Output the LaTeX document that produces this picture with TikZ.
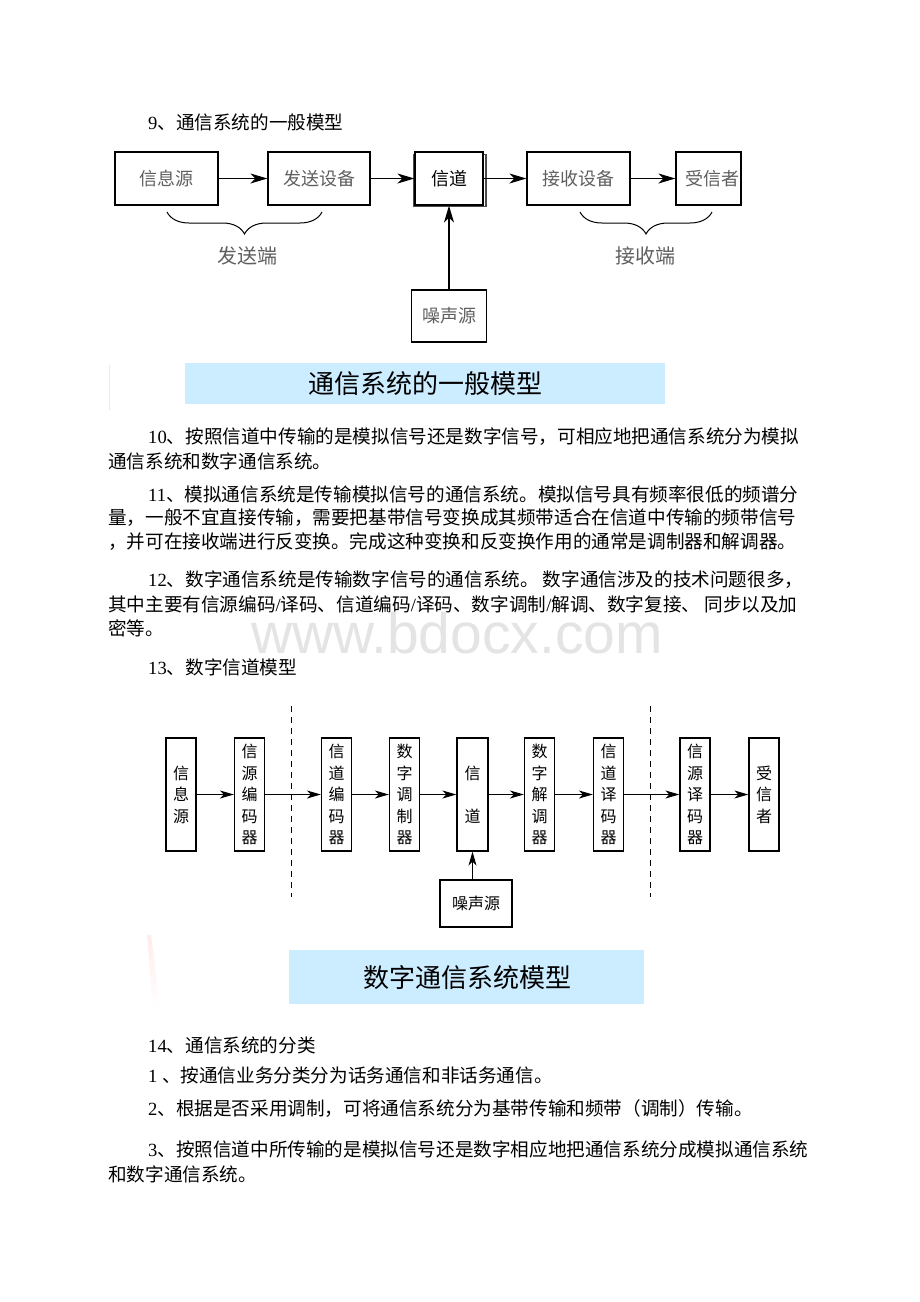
\documentclass[tikz,border=0pt]{standalone}
\usepackage{fontspec}
\setmainfont{Noto Sans CJK SC}
\newfontfamily\lat{Liberation Serif}
\newfontfamily\wmfont{Liberation Sans}
\usetikzlibrary{arrows.meta,decorations.pathreplacing,fadings}
\definecolor{bannerblue}{RGB}{204,236,255}
\definecolor{boxtext}{RGB}{95,95,95}
\definecolor{wmgray}{RGB}{228,228,228}
\begin{document}
\begin{tikzpicture}[x=1pt,y=-1pt,
  tbox/.style={draw,line width=1.2pt,minimum height=53pt,inner sep=0pt,
    font=\fontsize{18}{20}\selectfont,text=boxtext},
  bbox/.style={draw,line width=1.2pt,minimum width=30pt,minimum height=113pt,
    inner sep=0pt,align=center,font=\fontsize{16}{21.5}\selectfont},
  tarr/.style={line width=1.3pt,-{Stealth[length=17pt,width=10pt,inset=5pt]}},
  barr/.style={line width=1.2pt,-{Stealth[length=14pt,width=8pt,inset=4pt]}},
  body/.style={anchor=west,inner sep=0pt,font=\fontsize{18.6}{24}\selectfont},
  lbl/.style={inner sep=0pt,font=\fontsize{20}{22}\selectfont,text=boxtext},
  banner/.style={inner sep=0pt,font=\fontsize{26}{28}\selectfont},
  brc/.style={decorate,decoration={brace,mirror,amplitude=22pt,aspect=0.5},line width=1pt}]
\useasboundingbox (0,0) rectangle (920,1302);
\fill[white] (0,0) rectangle (920,1302);

% watermark
\node[inner sep=0pt,text=wmgray,font=\wmfont\fontsize{57}{60}\selectfont] (wm) at (457,633) {www.bdocx.com};

% section 9
\node[body] (t9) at (148,122) {{\lat 9}、通信系统的一般模型};

\node[tbox,minimum width=103pt] (src) at (166.5,178.5) {信息源};
\node[tbox,minimum width=102pt] (tx) at (319,178.5) {发送设备};
\draw[line width=1.2pt,black!70] (414,154.5) rectangle (486,206.5);
\node[tbox,minimum width=68pt,text=black,fill=white] (ch) at (449,178.5) {信道};
\node[tbox,minimum width=103pt] (rx) at (578.5,178.5) {接收设备};
\node[tbox,minimum width=65pt] (dst) at (708.5,178.5) {\hspace*{8pt}受信者};
\node[tbox,minimum width=75pt,minimum height=52pt] (noise) at (449,316) {噪声源};

\draw[tarr] (src) -- (tx);
\draw[tarr] (tx) -- (ch);
\draw[tarr] (ch) -- (rx);
\draw[tarr] (rx) -- (dst);
\draw[tarr] (noise) -- (ch);

\coordinate (b1a) at (167,212);
\coordinate (b1b) at (322,212);
\coordinate (b2a) at (580,212);
\coordinate (b2b) at (712,212);
\draw[brc] (b1a) -- (b1b);
\draw[brc] (b2a) -- (b2b);
\node[lbl] (sendend) at (247,256) {发送端};
\node[lbl] (recvend) at (645,256) {接收端};

% banner 1
\draw[pink!50,line width=0.8pt] (109,365) -- (109,410);
\fill[bannerblue] (185,363) rectangle (665,404);
\node[banner] (ban1) at (425,384) {通信系统的一般模型};

% paragraphs
\node[body] (p10a) at (148,437) {{\lat 10}、按照信道中传输的是模拟信号还是数字信号，可相应地把通信系统分为模拟};
\node[body] (p10b) at (108,461) {通信系统和数字通信系统。};
\node[body] (p11a) at (148,494) {{\lat 11}、模拟通信系统是传输模拟信号的通信系统。模拟信号具有频率很低的频谱分};
\node[body] (p11b) at (108,518) {量，一般不宜直接传输，需要把基带信号变换成其频带适合在信道中传输的频带信号};
\node[body] (p11c) at (108,542) {，并可在接收端进行反变换。完成这种变换和反变换作用的通常是调制器和解调器。};
\node[body] (p12a) at (148,580) {{\lat 12}、数字通信系统是传输数字信号的通信系统。 数字通信涉及的技术问题很多，};
\node[body] (p12b) at (108,604) {其中主要有信源编码{\lat /}译码、信道编码{\lat /}译码、数字调制{\lat /}解调、数字复接、 同步以及加};
\node[body] (p12c) at (108,628) {密等。};
\node[body] (p13) at (148,667) {{\lat 13}、数字信道模型};

% digital channel model
\draw[line width=1pt,dash pattern=on 6pt off 5pt] (291,706) -- (291,897);
\draw[line width=1pt,dash pattern=on 6pt off 5pt] (650,706) -- (650,897);

\node[bbox] (d1) at (181,794.5) {信\\息\\源};
\node[bbox] (d2) at (249.5,794.5) {信\\源\\编\\码\\器};
\node[bbox] (d3) at (336.5,794.5) {信\\道\\编\\码\\器};
\node[bbox] (d4) at (404.5,794.5) {数\\字\\调\\制\\器};
\node[bbox,minimum width=31pt] (d5) at (472.5,794.5) {信\\[21.5pt]道};
\node[bbox] (d6) at (539.5,794.5) {数\\字\\解\\调\\器};
\node[bbox] (d7) at (608.5,794.5) {信\\道\\译\\码\\器};
\node[bbox] (d8) at (695,794.5) {信\\源\\译\\码\\器};
\node[bbox] (d9) at (764,794.5) {受\\信\\者};
\node[draw,line width=1.2pt,minimum width=72pt,minimum height=47pt,inner sep=0pt,
  font=\fontsize{16}{18}\selectfont] (n2) at (476,903.5) {噪声源};

\draw[barr] (d1) -- (d2);
\draw[barr] (d2) -- (d3);
\draw[barr] (d3) -- (d4);
\draw[barr] (d4) -- (d5);
\draw[barr] (d5) -- (d6);
\draw[barr] (d6) -- (d7);
\draw[barr] (d7) -- (d8);
\draw[barr] (d8) -- (d9);
\draw[barr] (d5.south |- n2.north) -- (d5.south);

% banner 2
\fill[pink!30,path fading=south] (147,935) -- (151,935) -- (160,1008) -- (153,1008) -- cycle;
\fill[bannerblue] (289,950) rectangle (644,1004);
\node[banner] (ban2) at (467,978) {数字通信系统模型};

% section 14
\node[body] (p14) at (148,1045) {{\lat 14}、通信系统的分类};
\node[body] (q1) at (148,1075) {{\lat 1 }、按通信业务分类分为话务通信和非话务通信。};
\node[body] (q2) at (148,1109) {{\lat 2}、根据是否采用调制，可将通信系统分为基带传输和频带（调制）传输。};
\node[body] (q3a) at (148,1149) {{\lat 3}、按照信道中所传输的是模拟信号还是数字相应地把通信系统分成模拟通信系统};
\node[body] (q3b) at (108,1174) {和数字通信系统。};
\end{tikzpicture}
\end{document}
